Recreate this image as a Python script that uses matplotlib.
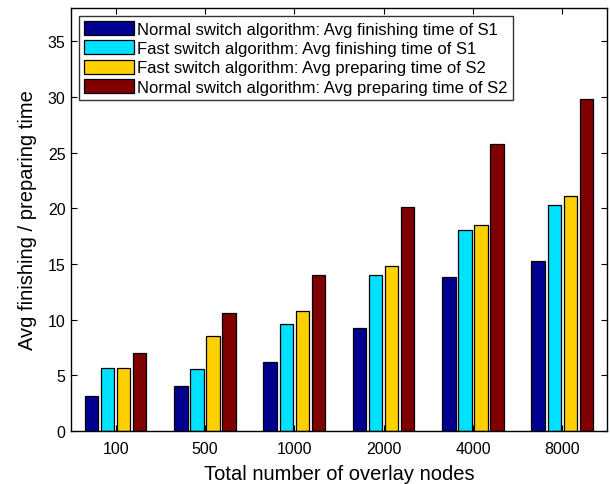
import numpy as np
import matplotlib.pyplot as plt

plt.rcParams['font.family'] = ['Liberation Sans', 'DejaVu Sans']

# data
node_counts = ['100', '500', '1000', '2000', '4000', '8000']
normal_finish_s1 = [3.15, 4.05, 6.2, 9.25, 13.85, 15.3]
fast_finish_s1 = [5.62, 5.53, 9.6, 14.05, 18.05, 20.3]
fast_prepare_s2 = [5.68, 8.53, 10.75, 14.86, 18.53, 21.1]
normal_prepare_s2 = [7.03, 10.63, 14.0, 20.13, 25.76, 29.8]

series = [normal_finish_s1, fast_finish_s1, fast_prepare_s2, normal_prepare_s2]
labels = ['Normal switch algorithm: Avg finishing time of S1',
          'Fast switch algorithm: Avg finishing time of S1',
          'Fast switch algorithm: Avg preparing time of S2',
          'Normal switch algorithm: Avg preparing time of S2']
colors = ['#000090', '#00E1FF', '#FFD000', '#800000']

fig = plt.figure(figsize=(6.1, 4.85), dpi=100)
ax = fig.add_axes([0.1164, 0.1093, 0.8786, 0.8721])

x = np.arange(1, len(node_counts) + 1)
offsets = [-0.27, -0.09, 0.09, 0.27]
for vals, off, c, lab in zip(series, offsets, colors, labels):
    ax.bar(x + off, vals, width=0.15, color=c, edgecolor='black',
           linewidth=0.9, label=lab, zorder=2)

ax.set_xlim(0.5, 6.5)
ax.set_ylim(0, 38)
ax.set_xticks(x)
ax.set_xticklabels(node_counts)
ax.set_yticks(np.arange(0, 40, 5))
ax.tick_params(direction='in', length=4, width=0.8, labelsize=11.5,
               top=True, right=True)
ax.tick_params(axis='y', pad=4)
ax.tick_params(axis='x', pad=7)
for s in ax.spines.values():
    s.set_linewidth(1.0)

ax.set_xlabel('Total number of overlay nodes', fontsize=14.5, labelpad=6)
ax.set_ylabel('Avg finishing / preparing time', fontsize=14.5, labelpad=8)

leg = ax.legend(loc='upper left', bbox_to_anchor=(0.015, 0.981), fontsize=12,
                frameon=True, fancybox=False, handlelength=3.0, handleheight=0.9,
                handletextpad=0.2, labelspacing=0.22, borderpad=0.3,
                borderaxespad=0.0)
leg.get_frame().set_edgecolor('black')
leg.get_frame().set_linewidth(1.0)

fig.savefig('out.png', dpi=100)
